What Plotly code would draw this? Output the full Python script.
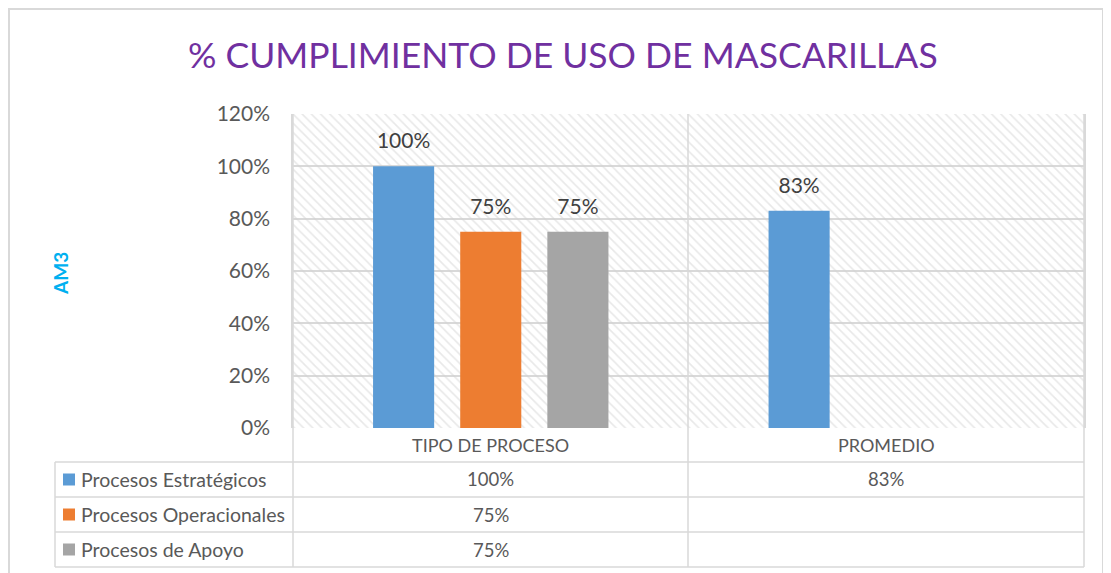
import plotly.graph_objects as go

categories = ["TIPO DE PROCESO", "PROMEDIO"]
series_names = ["Procesos Estratégicos", "Procesos Operacionales", "Procesos de Apoyo"]
estrategicos = [1.00, 0.83]
operacionales = [0.75, None]
apoyo = [0.75, None]
series_values = [estrategicos, operacionales, apoyo]
y_ticks = [0, 0.2, 0.4, 0.6, 0.8, 1.0, 1.2]
y_ticklabels = ["0%", "20%", "40%", "60%", "80%", "100%", "120%"]

colors = ["#5B9BD5", "#ED7D31", "#A5A5A5"]
FONT = "Lato"
TXT = "#595959"
GRID = "#D9D9D9"

OFF = 8  # default page body margin
W, H = 1111, 573
FW, FH = W - 2 * OFF, H - OFF
L, R, T, B = 293, 1084, 114, 428   # plot area in page pixels
PW, PH = R - L, B - T


def px_x(x):
    return (x - L) / PW


def px_y(y):
    return (B - y) / PH


fig = go.Figure()

# hatched plot-area background
fig.add_trace(go.Bar(
    x=[0.5], y=[max(y_ticks)], width=[1], xaxis="x", yaxis="y",
    marker=dict(color="rgba(0,0,0,0)", line=dict(width=0),
                pattern=dict(shape="\\", fgcolor="#D2D2D2", bgcolor="rgba(0,0,0,0)",
                             size=6.5, solidity=0.25)),
    hoverinfo="skip", showlegend=False,
))

for name, vals, col in zip(series_names, series_values, colors):
    fig.add_trace(go.Bar(
        x=categories, y=vals, name=name, xaxis="x2", yaxis="y",
        marker=dict(color=col, line=dict(width=0)),
        texttemplate="<span style='font-size:21px'>%{y:.0%}</span><br> ",
        textposition="outside",
        textfont=dict(family=FONT, size=10, color="#404040"),
        cliponaxis=False, hoverinfo="skip", showlegend=False,
    ))

shapes = []
line_kw = dict(color=GRID, width=1.5)
# outer chart border
shapes.append(dict(type="rect", xref="paper", yref="paper",
                   x0=px_x(9), x1=px_x(1103), y0=px_y(590), y1=px_y(9),
                   line=dict(color="#D9D9D9", width=2), layer="below"))
# category divider extended through table
shapes.append(dict(type="line", xref="paper", yref="paper",
                   x0=px_x(688), x1=px_x(688), y0=px_y(567), y1=1, line=line_kw))
# plot borders extended through table
shapes.append(dict(type="line", xref="paper", yref="paper",
                   x0=0, x1=0, y0=px_y(567), y1=1, line=line_kw))
shapes.append(dict(type="line", xref="paper", yref="paper",
                   x0=1, x1=1, y0=px_y(567), y1=1, line=line_kw))
# left legend column border
shapes.append(dict(type="line", xref="paper", yref="paper",
                   x0=px_x(55), x1=px_x(55), y0=px_y(567), y1=px_y(462), line=line_kw))
# row lines
for yy in [462, 497, 532, 567]:
    shapes.append(dict(type="line", xref="paper", yref="paper",
                       x0=px_x(55), x1=1, y0=px_y(yy), y1=px_y(yy), line=line_kw))

annotations = []
# title
annotations.append(dict(text="% CUMPLIMIENTO DE USO DE MASCARILLAS", xref="paper", yref="paper",
                        x=px_x(563), y=px_y(55), showarrow=False,
                        font=dict(family=FONT, size=35.5, color="#7030A0"),
                        xanchor="center", yanchor="middle"))
# y-axis title
annotations.append(dict(text="<b>AM3</b>", xref="paper", yref="paper", x=px_x(60), y=px_y(274),
                        showarrow=False, textangle=-90,
                        font=dict(family=FONT, size=19, color="#00B0F0"),
                        xanchor="center", yanchor="middle"))
# header row (category names)
cat_centers = [px_x((L + 688) / 2), px_x((688 + R) / 2)]
for cx, c in zip(cat_centers, categories):
    annotations.append(dict(text=c, xref="paper", yref="paper", x=cx, y=px_y(445),
                            showarrow=False, font=dict(family=FONT, size=18, color=TXT),
                            xanchor="center", yanchor="middle"))
# table rows
row_centers = [479.5, 514.5, 549.5]
for rc, name, vals, col in zip(row_centers, series_names, series_values, colors):
    shapes.append(dict(type="rect", xref="paper", yref="paper",
                       x0=px_x(63), x1=px_x(75), y0=px_y(rc + 6), y1=px_y(rc - 6),
                       fillcolor=col, line=dict(width=0)))
    annotations.append(dict(text=name, xref="paper", yref="paper", x=px_x(79), y=px_y(rc),
                            showarrow=False, font=dict(family=FONT, size=19.5, color=TXT),
                            xanchor="left", yanchor="middle"))
    for cx, v in zip(cat_centers, vals):
        if v is not None:
            annotations.append(dict(text=f"{v:.0%}", xref="paper", yref="paper", x=cx, y=px_y(rc),
                                    showarrow=False, font=dict(family=FONT, size=18.5, color=TXT),
                                    xanchor="center", yanchor="middle"))

fig.update_layout(
    width=FW, height=FH,
    margin=dict(l=L - OFF, r=FW - (R - OFF), t=T - OFF, b=FH - (B - OFF), pad=0),
    paper_bgcolor="white", plot_bgcolor="white",
    barmode="group", bargap=0.339, bargroupgap=0.299,
    showlegend=False,
    xaxis=dict(range=[0, 1], visible=False, fixedrange=True),
    xaxis2=dict(overlaying="x", type="category", showticklabels=False, showgrid=False,
                zeroline=False, showline=False, ticks="", fixedrange=True),
    yaxis=dict(range=[0, 1.2], tickvals=y_ticks, ticktext=y_ticklabels,
               showgrid=True, gridcolor=GRID, gridwidth=1.5, zeroline=False,
               showline=True, linecolor=GRID, linewidth=1.5, mirror=True,
               ticks="", ticklabelstandoff=17,
               tickfont=dict(family=FONT, size=21, color=TXT), fixedrange=True),
    shapes=shapes, annotations=annotations,
)

fig.write_html("out.html")
